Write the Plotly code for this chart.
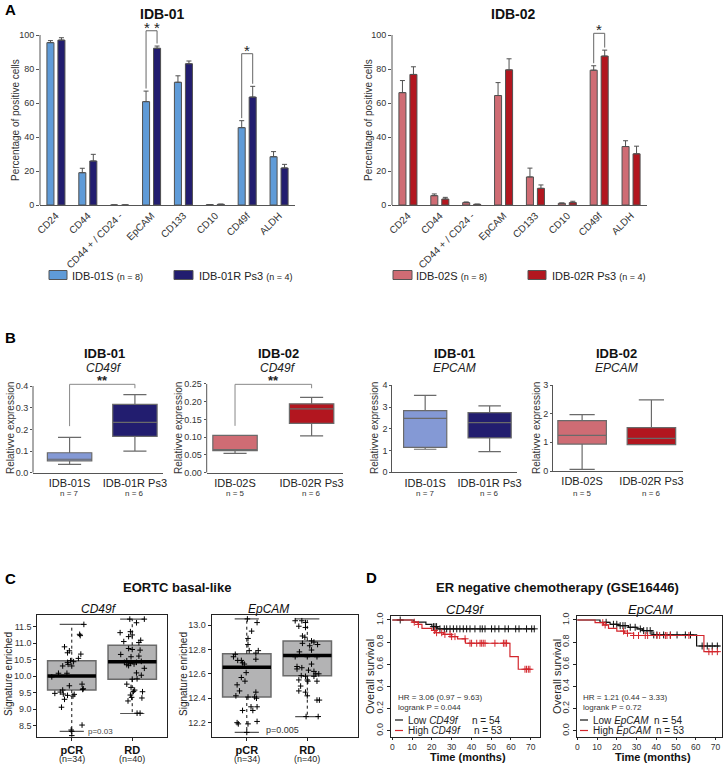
import numpy as np
import plotly.graph_objects as go

W, H = 726, 766
FONT = "Liberation Sans, Arial, Helvetica, sans-serif"

# ---------------- Panel A data ----------------
markers_A = ["CD24", "CD44", "CD44 + / CD24 -", "EpCAM", "CD133", "CD10", "CD49f", "ALDH"]
idb01_S = [95.5, 19.0, 0.0, 60.8, 72.2, 0.2, 45.5, 28.4]
idb01_S_err = [1.2, 2.6, 0.0, 6.2, 3.8, 0.0, 4.1, 3.0]
idb01_R = [97.0, 25.9, 0.0, 92.2, 83.1, 0.4, 63.5, 21.8]
idb01_R_err = [1.4, 3.9, 0.0, 1.3, 1.6, 0.1, 6.3, 2.1]
idb02_S = [66.1, 5.5, 1.4, 64.4, 16.5, 1.0, 79.3, 34.4]
idb02_S_err = [7.1, 1.0, 0.4, 7.6, 5.2, 0.2, 2.6, 3.4]
idb02_R = [76.8, 3.5, 0.4, 79.5, 9.8, 1.4, 87.6, 30.1]
idb02_R_err = [4.5, 1.0, 0.1, 6.5, 2.0, 0.8, 3.5, 4.5]
sig01_idx = [3, 6]
sig01_top = [102.5, 89.0]
sig01_lab = ["* *", "*"]
sig02_idx = [6]
sig02_top = [101.0]
sig02_lab = ["*"]
legend_A01 = ["IDB-01S", "IDB-01R Ps3"]
legend_A02 = ["IDB-02S", "IDB-02R Ps3"]
legend_n_A = [8, 4]

# ---------------- Panel B data (box statistics) ----------------
groups_B01 = ["IDB-01S", "IDB-01R Ps3"]
groups_B02 = ["IDB-02S", "IDB-02R Ps3"]
n_B01 = [7, 6]
n_B02 = [5, 6]
# CD49f IDB-01
b1_lo = [0.038, 0.100]; b1_q1 = [0.055, 0.168]; b1_med = [0.062, 0.232]; b1_q3 = [0.092, 0.315]; b1_hi = [0.163, 0.360]
# CD49f IDB-02
b2_lo = [0.0545, 0.104]; b2_q1 = [0.062, 0.139]; b2_med = [0.063, 0.180]; b2_q3 = [0.105, 0.194]; b2_hi = [0.105, 0.212]
# EPCAM IDB-01
b3_lo = [1.06, 0.95]; b3_q1 = [1.15, 1.58]; b3_med = [2.48, 2.28]; b3_q3 = [2.84, 2.74]; b3_hi = [3.54, 3.05]
# EPCAM IDB-02
b4_lo = [0.06, 0.92]; b4_q1 = [0.94, 0.92]; b4_med = [1.24, 1.14]; b4_q3 = [1.76, 1.51]; b4_hi = [1.97, 2.48]
# significance brackets: [left leg end, right leg end, top]
b1_sig = [0.215, 0.390, 0.408]
b2_sig = [0.132, 0.238, 0.249]

# ---------------- Panel C data ----------------
groups_C = ["pCR", "RD"]
n_C = [34, 40]
c1_lo = [8.33, 8.87]; c1_q1 = [9.58, 9.91]; c1_med = [10.01, 10.44]; c1_q3 = [10.47, 10.94]; c1_hi = [11.57, 11.73]
c2_lo = [12.12, 12.25]; c2_q1 = [12.41, 12.585]; c2_med = [12.653, 12.75]; c2_q3 = [12.765, 12.87]; c2_hi = [13.05, 13.05]

c1_pcr_vals = [11.27, 11.23, 10.89, 10.77, 10.71, 10.67, 10.54, 10.47, 10.42, 10.44, 10.31, 10.31, 10.36,
               10.09, 10.09, 9.98, 9.76, 9.71, 9.62, 9.60, 9.58, 9.52, 9.48, 9.46, 9.42, 9.40, 9.45, 9.30,
               9.06, 8.52, 8.37, 8.20, 11.57, 8.33]
c1_pcr_jit = [0.13, 0.14, -0.12, -0.04, -0.07, 0.15, 0.11, -0.02, -0.07, 0.03, -0.15, 0.0, -0.06,
              -0.22, -0.08, -0.33, 0.17, -0.04, 0.19, 0.18, -0.15, -0.19, -0.28, -0.14, -0.07, 0.02, 0.04, -0.12,
              -0.17, 0.17, -0.01, 0.0, 0.2, 0.0]
c1_rd_vals = [11.62, 11.73, 11.32, 11.35, 11.25, 11.20, 11.02, 11.05, 11.09, 10.84, 10.81, 10.79, 10.66,
              10.59, 10.61, 10.47, 10.42, 10.39, 10.42, 10.45, 10.37, 10.35, 10.32, 10.24, 10.10, 9.91,
              9.92, 10.03, 9.76, 9.66, 9.58, 9.54, 9.53, 9.43, 9.25, 9.34, 9.36, 8.88, 8.88, 11.73]
c1_rd_jit = [0.07, -0.04, -0.2, -0.03, 0.0, -0.06, 0.11, -0.14, 0.14, -0.06, 0.0, 0.13, -0.19,
             -0.02, 0.11, -0.09, -0.13, -0.03, 0.07, 0.15, 0.03, -0.09, -0.06, 0.2, 0.07, 0.0,
             0.08, 0.15, -0.09, -0.02, 0.04, 0.02, 0.17, -0.03, -0.07, 0.16, -0.01, 0.08, 0.13, 0.2]
c2_pcr_vals = [13.02, 12.95, 12.89, 12.84, 12.79, 12.77, 12.79, 12.76, 12.71, 12.71, 12.69, 12.68, 12.72,
               12.61, 12.57, 12.54, 12.51, 12.46, 12.45, 12.42, 12.41, 12.41, 12.40, 12.33, 12.30, 12.30,
               12.33, 12.20, 12.21, 12.19, 12.19, 13.05, 12.12, 12.74]
c2_pcr_jit = [0.17, 0.08, 0.02, 0.02, 0.04, 0.15, 0.19, -0.19, -0.15, -0.09, -0.07, -0.04, 0.15,
              -0.01, -0.09, -0.03, -0.16, -0.12, 0.15, -0.18, 0.02, 0.13, 0.16, 0.07, -0.07, 0.1,
              0.17, -0.16, 0.17, 0.02, -0.14, 0.01, 0.0, -0.22]
c2_rd_vals = [13.035, 13.035, 13.02, 12.99, 12.98, 12.90, 12.91, 12.87, 12.86, 12.85, 12.84, 12.83, 12.795,
              12.78, 12.74, 12.74, 12.74, 12.66, 12.65, 12.64, 12.63, 12.62, 12.60, 12.60, 12.585, 12.58,
              12.58, 12.55, 12.54, 12.54, 12.50, 12.46, 12.45, 12.385, 12.385, 12.42, 12.55, 12.25, 12.25, 12.68]
c2_rd_jit = [-0.2, -0.09, -0.03, -0.14, -0.03, -0.04, -0.08, 0.07, 0.11, -0.08, 0.17, 0.04, 0.07,
             -0.13, -0.2, 0.0, 0.16, -0.17, -0.09, -0.17, 0.02, 0.11, 0.14, 0.19, -0.1, -0.03,
             0.11, 0.0, 0.16, 0.01, -0.11, -0.14, -0.03, 0.16, 0.2, 0.0, -0.14, 0.18, -0.02, 0.07]

# ---------------- Panel D data (Kaplan-Meier) ----------------
km1_low_t = [0, 11, 17, 20, 23, 72]
km1_low_s = [1.0, 0.98, 0.96, 0.94, 0.92, 0.92]
km1_low_cens = [4, 20.8, 21.6, 22.4, 24.1, 26.3, 27.5, 29.2, 30.9, 32.6, 34.2, 35.9, 37.6, 39.3, 41.8,
                44.4, 45.5, 46.9, 50.2, 51.9, 53.9, 57.0, 58.7, 62.4, 64.1, 67.9, 70.5, 71.8]
km1_high_t = [0, 10, 13, 15, 20, 22, 26, 30, 33, 37, 59.5, 63.7, 69.6]
km1_high_s = [1.0, 0.98, 0.96, 0.925, 0.905, 0.885, 0.87, 0.85, 0.83, 0.79, 0.67, 0.555, 0.555]
km1_high_cens = [11.1, 13.2, 21.3, 22.4, 25, 26.6, 29.2, 30, 31.7, 36.8, 39.3, 40.1, 42.7, 44.4, 45.2,
                 46, 46.9, 51.9, 56.2, 57, 57.8, 67.1, 67.9, 68.8, 69.6]
km2_low_t = [0, 11.5, 16.6, 20.9, 25.9, 30.2, 33, 37.8, 60.4, 72]
km2_low_s = [1.0, 0.979, 0.961, 0.949, 0.934, 0.919, 0.904, 0.865, 0.765, 0.765]
km2_low_cens = [14.6, 18.3, 20.0, 21.7, 23.1, 24.2, 26.8, 29.3, 31.9, 33.6, 35.3, 36.9, 38.7, 40.3,
                43.7, 47.1, 50.5, 54.7, 57.3, 63.2, 65.8, 68.3, 70.9]
km2_high_t = [0, 9, 13.2, 15.8, 20, 24, 28.5, 64.1, 71.7]
km2_high_s = [1.0, 0.976, 0.955, 0.925, 0.9, 0.88, 0.86, 0.714, 0.714]
km2_high_cens = [12.9, 14.1, 23.4, 25.4, 28.5, 31.0, 34.4, 35.6, 40.3, 41.7, 44.6, 45.4, 47.1, 56.5,
                 66.6, 68.3, 70.9]
km1_stats = ["HR = 3.06 (0.97 \u2212 9.63)", "logrank P = 0.044"]
km2_stats = ["HR = 1.21 (0.44 \u2212 3.33)", "logrank P = 0.72"]
km_n = [54, 53]

# ---------------- colours ----------------
COL_01S = "#5f9bd8"
COL_01R = "#221d6f"
COL_02S = "#cf6c74"
COL_02R = "#b2161f"
COL_B01S = "#8499d5"
COL_KM_LOW = "#111111"
COL_KM_HIGH = "#d3262c"


def px(x):
    return x / W


def py(y):
    return 1 - y / H


fig = go.Figure()
shapes = []
annotations = []


def ann(text, x, y, size=10, color="#222", xanchor="center", yanchor="middle", angle=0, **kw):
    annotations.append(dict(text=text, x=px(x), y=py(y), xref="paper", yref="paper", showarrow=False,
                            xanchor=xanchor, yanchor=yanchor, textangle=angle,
                            font=dict(family=FONT, size=size, color=color), **kw))


# ================= Panel A =================
bargap = 0.31
half = (1 - bargap) / 4
xA = np.arange(len(markers_A))
for (vals, errs, col, xa, ya) in [
    (idb01_S, idb01_S_err, COL_01S, "x", "y"),
    (idb01_R, idb01_R_err, COL_01R, "x", "y"),
    (idb02_S, idb02_S_err, COL_02S, "x2", "y2"),
    (idb02_R, idb02_R_err, COL_02R, "x2", "y2"),
]:
    fig.add_trace(go.Bar(
        x=xA, y=vals, xaxis=xa, yaxis=ya, showlegend=False,
        marker=dict(color=col, line=dict(color="#505050", width=1)),
        error_y=dict(type="data", symmetric=False, array=errs, arrayminus=[0] * len(errs),
                     color="#505050", thickness=1, width=2.5),
    ))


def add_bracket(xl, xr, yl, yr, top, xref, yref, color="#666"):
    for (x0, y0, x1, y1) in [(xl, yl, xl, top), (xl, top, xr, top), (xr, top, xr, yr)]:
        shapes.append(dict(type="line", xref=xref, yref=yref, x0=x0, y0=y0, x1=x1, y1=y1,
                           line=dict(color=color, width=1)))


for idxs, tops, labs, S, Se, R, Re, xr, yr in [
    (sig01_idx, sig01_top, sig01_lab, idb01_S, idb01_S_err, idb01_R, idb01_R_err, "x", "y"),
    (sig02_idx, sig02_top, sig02_lab, idb02_S, idb02_S_err, idb02_R, idb02_R_err, "x2", "y2"),
]:
    for i, top, lab in zip(idxs, tops, labs):
        add_bracket(i - half, i + half, S[i] + Se[i] + 1.5, R[i] + Re[i] + 1.5, top, xr, yr)
        annotations.append(dict(text=lab, x=i, y=top, xref=xr, yref=yr, showarrow=False,
                                yanchor="bottom", yshift=-7,
                                font=dict(family=FONT, size=15, color="#222")))

# manual y axis lines up to the last tick
for xr, yr in [("x", "y"), ("x2", "y2")]:
    shapes.append(dict(type="line", xref=xr + " domain", yref=yr, x0=0, x1=0, y0=0, y1=100,
                       line=dict(color="#555", width=1)))

# A legends
for names, cols, swx, txx in [
    (legend_A01, [COL_01S, COL_01R], [(49, 67), (174, 193)], [70, 197]),
    (legend_A02, [COL_02S, COL_02R], [(393, 412), (528, 546)], [414, 550]),
]:
    for nm, c, (a, b), tx, n in zip(names, cols, swx, txx, legend_n_A):
        shapes.append(dict(type="rect", xref="paper", yref="paper", x0=px(a), x1=px(b),
                           y0=py(279.5), y1=py(270.5), fillcolor=c, line=dict(color="#555", width=1)))
        ann(f"{nm} <span style='font-size:9px'>(n = {n})</span>", tx, 275.5, size=11,
            color="#222", xanchor="left")

# ================= Panel B =================
box_specs = [
    ("x3", "y3", b1_lo, b1_q1, b1_med, b1_q3, b1_hi, [COL_B01S, COL_01R], 0.68),
    ("x4", "y4", b2_lo, b2_q1, b2_med, b2_q3, b2_hi, [COL_02S, COL_02R], 0.58),
    ("x5", "y5", b3_lo, b3_q1, b3_med, b3_q3, b3_hi, [COL_B01S, COL_01R], 0.67),
    ("x6", "y6", b4_lo, b4_q1, b4_med, b4_q3, b4_hi, [COL_02S, COL_02R], 0.7),
]
for xa, ya, lo, q1, med, q3, hi, cols, wd in box_specs:
    for k in range(2):
        fig.add_trace(go.Box(
            x=[k + 1], lowerfence=[lo[k]], q1=[q1[k]], median=[med[k]], q3=[q3[k]], upperfence=[hi[k]],
            xaxis=xa, yaxis=ya, fillcolor=cols[k], line=dict(color="#6a6a6a", width=1.2),
            whiskerwidth=0.52, width=wd, boxpoints=False, showlegend=False, hoverinfo="skip",
        ))

for sig, xr, yr in [(b1_sig, "x3", "y3"), (b2_sig, "x4", "y4")]:
    add_bracket(1, 2, sig[0], sig[1], sig[2], xr, yr, color="#888")
    annotations.append(dict(text="<b>**</b>", x=1.5, y=sig[2], xref=xr, yref=yr, showarrow=False,
                            yanchor="bottom", yshift=-6, font=dict(family=FONT, size=13, color="#222")))
for xr, yr, top in [("x3", "y3", 0.4), ("x4", "y4", 0.25)]:
    shapes.append(dict(type="line", xref=xr + " domain", yref=yr, x0=0, x1=0, y0=0, y1=top,
                       line=dict(color="#555", width=1)))

# "n = .." lines under group labels
for xr, ns in [("x3", n_B01), ("x4", n_B02), ("x5", n_B01), ("x6", n_B02)]:
    for k, n in enumerate(ns):
        annotations.append(dict(text=f"n = {n}", x=k + 1, y=py(493.5), xref=xr, yref="paper",
                                showarrow=False, yanchor="middle",
                                font=dict(family=FONT, size=8, color="#333")))

# ================= Panel C =================
for xa, ya, lo, q1, med, q3, hi, sets in [
    ("x7", "y7", c1_lo, c1_q1, c1_med, c1_q3, c1_hi, [(c1_pcr_vals, c1_pcr_jit), (c1_rd_vals, c1_rd_jit)]),
    ("x8", "y8", c2_lo, c2_q1, c2_med, c2_q3, c2_hi, [(c2_pcr_vals, c2_pcr_jit), (c2_rd_vals, c2_rd_jit)]),
]:
    for k in range(2):
        c = k + 1
        fig.add_trace(go.Box(
            x=[c], lowerfence=[q1[k]], q1=[q1[k]], median=[med[k]], q3=[q3[k]], upperfence=[q3[k]],
            xaxis=xa, yaxis=ya, fillcolor="#b3b3b4", line=dict(color="#6a6a6a", width=1.5),
            whiskerwidth=0, width=0.8, boxpoints=False, showlegend=False, hoverinfo="skip",
        ))
        fig.add_trace(go.Scatter(x=[c, c, None, c, c], y=[q1[k], lo[k], None, q3[k], hi[k]],
                                 mode="lines", xaxis=xa, yaxis=ya, showlegend=False, hoverinfo="skip",
                                 line=dict(color="#111", width=1, dash="3px,3px")))
        fig.add_trace(go.Scatter(x=[c - 0.2, c + 0.2, None, c - 0.2, c + 0.2], y=[lo[k], lo[k], None, hi[k], hi[k]],
                                 mode="lines", xaxis=xa, yaxis=ya, showlegend=False, hoverinfo="skip",
                                 line=dict(color="#555", width=1.2)))
        fig.add_trace(go.Scatter(x=[c - 0.4, c + 0.4], y=[med[k], med[k]], mode="lines",
                                 xaxis=xa, yaxis=ya, showlegend=False, hoverinfo="skip",
                                 line=dict(color="#000", width=3.5)))
        vals, jit = sets[k]
        fig.add_trace(go.Scatter(x=c + np.array(jit), y=vals, mode="markers", xaxis=xa, yaxis=ya,
                                 showlegend=False, hoverinfo="skip",
                                 marker=dict(symbol="cross-thin", size=4, color="#000",
                                             line=dict(width=1, color="#000"))))
    for k, n in enumerate(n_C):
        annotations.append(dict(text=f"(n={n})", x=k + 1, y=py(759), xref=xa, yref="paper",
                                showarrow=False, yanchor="middle",
                                font=dict(family=FONT, size=9, color="#222")))


# ================= Panel D =================
def step_at(t, s, c):
    t = np.asarray(t); s = np.asarray(s)
    i = np.searchsorted(t, c, side="right") - 1
    return s[np.clip(i, 0, len(s) - 1)]


for xa, ya, curves in [
    ("x9", "y9", [(km1_low_t, km1_low_s, km1_low_cens, COL_KM_LOW), (km1_high_t, km1_high_s, km1_high_cens, COL_KM_HIGH)]),
    ("x10", "y10", [(km2_low_t, km2_low_s, km2_low_cens, COL_KM_LOW), (km2_high_t, km2_high_s, km2_high_cens, COL_KM_HIGH)]),
]:
    for t, s, cens, col in curves:
        fig.add_trace(go.Scatter(x=t, y=s, mode="lines", line=dict(color=col, width=1.2, shape="hv"),
                                 xaxis=xa, yaxis=ya, showlegend=False, hoverinfo="skip"))
        fig.add_trace(go.Scatter(x=cens, y=step_at(t, s, np.array(cens)), mode="markers",
                                 xaxis=xa, yaxis=ya, showlegend=False, hoverinfo="skip",
                                 marker=dict(symbol="cross-thin", size=5, color=col,
                                             line=dict(width=1, color=col))))

# KM annotations and mini legends
for x0, stats, gene, nx in [(396, km1_stats, "CD49f", 470), (581, km2_stats, "EpCAM", 652)]:
    ann(stats[0], x0, 697, size=8, color="#333", xanchor="left")
    ann(stats[1], x0, 707.5, size=8, color="#333", xanchor="left")
    for yy, lab, col, n in [(720, "Low", COL_KM_LOW, km_n[0]), (730.5, "High", COL_KM_HIGH, km_n[1])]:
        shapes.append(dict(type="line", xref="paper", yref="paper", x0=px(x0 - 1), x1=px(x0 + 7),
                           y0=py(yy), y1=py(yy), line=dict(color=col, width=1.2)))
        ann(f"{lab} <i>{gene}</i>", x0 + 10, yy, size=10, color="#222", xanchor="left")
        ann(f"n = {n}", nx + (2 if lab == "High" else 0), yy, size=10, color="#222", xanchor="left")

# ================= Titles / labels =================
ann("<b>A</b>", 3, 10, size=15, color="#000", xanchor="left")
ann("<b>B</b>", 3, 337, size=15, color="#000", xanchor="left")
ann("<b>C</b>", 3, 578, size=15, color="#000", xanchor="left")
ann("<b>D</b>", 364, 577, size=15, color="#000", xanchor="left")

ann("<b>IDB-01</b>", 162, 14, size=14, color="#111")
ann("<b>IDB-02</b>", 513, 14, size=14, color="#111")
ann("Percentage of positive cells", 15, 120, size=10, color="#333", angle=-90)
ann("Percentage of positive cells", 368, 120, size=10, color="#333", angle=-90)

for xc, t1, t2 in [(104, "IDB-01", "CD49f"), (278, "IDB-02", "CD49f"), (454, "IDB-01", "EPCAM"), (616, "IDB-02", "EPCAM")]:
    ann(f"<b>{t1}</b>", xc, 353, size=13, color="#111")
    ann(f"<i>{t2}</i>", xc, 368, size=12, color="#222")
for xc in [10, 178, 374, 536]:
    ann("Relativve expression", xc, 428, size=10, color="#333", angle=-90)

ann("<b>EORTC basal-like</b>", 177, 587, size=13, color="#111")
ann("<i>CD49f</i>", 99, 609, size=12, color="#111")
ann("<i>EpCAM</i>", 268, 609, size=12, color="#111")
ann("Signature enriched", 8, 674, size=10, color="#222", angle=-90)
ann("Signature enriched", 183, 674, size=10, color="#222", angle=-90)
ann("p=0.03", 101, 731.5, size=8, color="#444")
ann("p=0.005", 282, 729.5, size=9, color="#333")

ann("<b>ER negative chemotherapy (GSE16446)</b>", 557, 587, size=13, color="#111")
ann("<i>CD49f</i>", 465, 609, size=13, color="#111")
ann("<i>EpCAM</i>", 650, 609, size=13, color="#111")
ann("Overall survival", 370, 677, size=11, color="#222", angle=-90)
ann("Overall survival", 557, 677, size=11, color="#222", angle=-90)
ann("<b>Time (months)</b>", 468, 757, size=11, color="#111")
ann("<b>Time (months)</b>", 653, 757, size=11, color="#111")


# ================= Axes =================
def ax(**kw):
    d = dict(showgrid=False, zeroline=False, automargin=False, fixedrange=True,
             tickfont=dict(family=FONT, size=9, color="#333"),
             ticks="outside", ticklen=3, tickcolor="#555", linecolor="#555", linewidth=1, showline=True)
    d.update(kw)
    return d


def dom(a, b):
    return [a / W, b / W]


def vdom(bottom, top):
    return [1 - bottom / H, 1 - top / H]


layout_axes = {}
# A
for i, (xa, ya, l, r) in enumerate([("xaxis", "yaxis", 40, 295), ("xaxis2", "yaxis2", 392, 647)]):
    xid = "x" if i == 0 else "x2"
    yid = "y" if i == 0 else "y2"
    layout_axes[xa] = ax(domain=dom(l, r), anchor=yid, range=[-0.5, 7.5], tickvals=list(xA),
                         ticktext=markers_A, tickangle=-45, ticks="",
                         tickfont=dict(family=FONT, size=10, color="#333"))
    layout_axes[ya] = ax(domain=vdom(205, 28.2), anchor=xid, range=[0, 104],
                         tickvals=[0, 20, 40, 60, 80, 100], showline=False)

b_axes = [
    (3, (33, 163), (472.7, 382.8), [0.44, 2.43], [0, 0.415], [0, 0.1, 0.2, 0.3, 0.4], ".1f", groups_B01, False),
    (4, (206.7, 343), (472.7, 382.2), [0.63, 2.41], [0, 0.255], [0, 0.05, 0.1, 0.15, 0.2, 0.25], ".2f", groups_B02, False),
    (5, (392.3, 516.7), (472.3, 385.3), [0.49, 2.42], [0, 4], [0, 1, 2, 3, 4], "d", groups_B01, True),
    (6, (553, 683.3), (471, 385), [0.58, 2.46], [0, 3], [0, 1, 2, 3], "d", groups_B02, True),
]
for k, (l, r), (bt, tp), xr_, yr_, tv, fmt, grp, sl in b_axes:
    layout_axes[f"xaxis{k}"] = ax(domain=dom(l, r), anchor=f"y{k}", range=xr_, tickvals=[1, 2],
                                  ticktext=grp, ticks="",
                                  tickfont=dict(family=FONT, size=11, color="#222"))
    layout_axes[f"yaxis{k}"] = ax(domain=vdom(bt, tp), anchor=f"x{k}", range=yr_, tickvals=tv,
                                  tickformat=fmt, showline=sl, ticklen=2,
                                  tickfont=dict(family=FONT, size=9, color="#333"))

# C
ctext = [f"<b>{g}</b>" for g in groups_C]
for k, (l, r), xr_, yr_, tv in [
    (7, (37.3, 166.7), [0.43, 2.57], [8.167, 11.855], [8.5, 9.0, 9.5, 10.0, 10.5, 11.0, 11.5]),
    (8, (211.7, 357.5), [0.42, 2.83], [12.085, 13.082], [12.2, 12.4, 12.6, 12.8, 13.0]),
]:
    layout_axes[f"xaxis{k}"] = ax(domain=dom(l, r), anchor=f"y{k}", range=xr_, tickvals=[1, 2],
                                  ticktext=ctext, mirror=True, linecolor="#222", tickcolor="#222",
                                  tickfont=dict(family=FONT, size=11, color="#111"))
    layout_axes[f"yaxis{k}"] = ax(domain=vdom(736.7, 615), anchor=f"x{k}", range=yr_, tickvals=tv,
                                  tickformat=".1f", mirror=True, linecolor="#222", tickcolor="#222",
                                  tickfont=dict(family=FONT, size=9, color="#333"))

# D
for k, (l, r), xr_ in [(9, (391, 540), [-0.66, 74.7]), (10, (576.7, 721.7), [-0.3, 73.1])]:
    layout_axes[f"xaxis{k}"] = ax(domain=dom(l, r), anchor=f"y{k}", range=xr_, ticklen=2,
                                  tickvals=list(range(0, 71, 10)), mirror=True, linecolor="#222",
                                  tickcolor="#222", tickfont=dict(family=FONT, size=8.5, color="#333"))
    layout_axes[f"yaxis{k}"] = ax(domain=vdom(736.7, 616), anchor=f"x{k}", range=[-0.054, 1.036],
                                  tickvals=[0, 0.2, 0.4, 0.6, 0.8, 1.0], tickformat=".1f", tickangle=-90,
                                  mirror=True, linecolor="#222", tickcolor="#222",
                                  tickfont=dict(family=FONT, size=9, color="#333"))

fig.update_layout(
    width=W, height=H, margin=dict(l=0, r=0, t=0, b=0),
    paper_bgcolor="white", plot_bgcolor="white",
    barmode="group", bargap=bargap, bargroupgap=0.36,
    font=dict(family=FONT, size=10, color="#222"),
    shapes=shapes, annotations=annotations, showlegend=False,
    **layout_axes,
)

fig.write_html("out.html", config={"displayModeBar": False, "staticPlot": True},
               post_script="document.body.style.margin='0px';document.body.style.overflow='hidden';")
